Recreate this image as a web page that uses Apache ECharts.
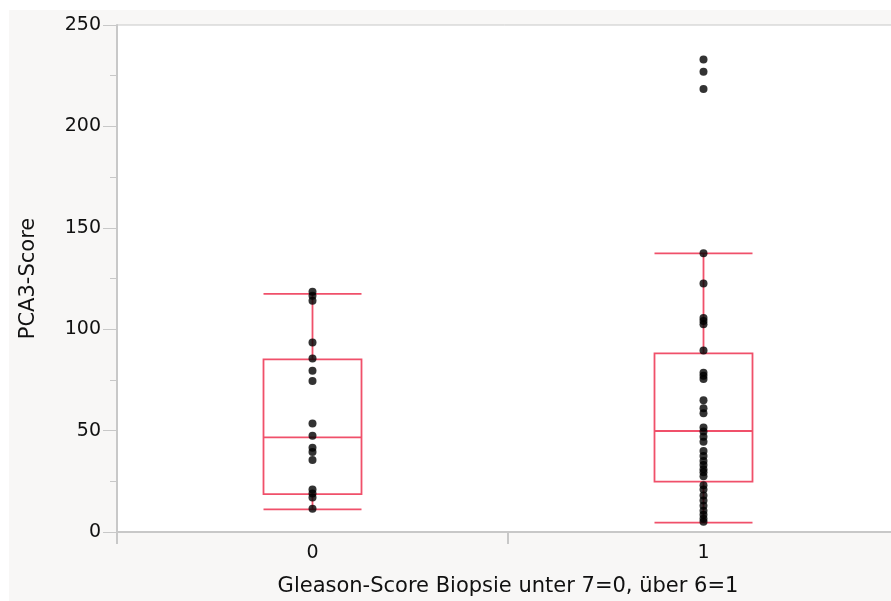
<!DOCTYPE html>
<html>
<head>
<meta charset="utf-8">
<script src="https://cdn.jsdelivr.net/npm/echarts@6/dist/echarts.min.js"></script>
<style>html,body{margin:0;padding:0;background:#fff;}#c{width:891px;height:601px;}</style>
</head>
<body>
<div id="c"></div>
<script>
var categories = ['0', '1'];
var group0 = [118.5, 116.5, 114, 93.5, 85.5, 79.5, 74.5, 53.5, 47.5, 41.5, 39.5, 35.5, 21, 19, 17, 11.5];
var group1 = [233, 227, 218.5, 137.5, 122.5, 105.5, 104, 102.5, 89.5, 78.5, 77, 75.5, 65, 61, 58.5, 51.5, 49.5, 47, 44.5, 40, 37.5, 35, 33, 31, 29.5, 27.5, 23, 21, 18, 15.5, 13, 10.5, 8.5, 6.5, 5];
// [lower whisker, Q1, median, Q3, upper whisker]
var box0 = [11.2, 18.7, 46.7, 85.1, 117.4];
var box1 = [4.6, 24.8, 49.8, 88.1, 137.4];
var yTicks = [0, 50, 100, 150, 200, 250];

var points = [];
group0.forEach(function (v) { points.push([categories[0], v]); });
group1.forEach(function (v) { points.push([categories[1], v]); });

var font = '"DejaVu Sans", sans-serif';
var chart = echarts.init(document.getElementById('c'), null, { renderer: 'canvas' });
chart.setOption({
  backgroundColor: '#f8f7f6',
  animation: false,
  graphic: [
    { type: 'rect', shape: { x: 0, y: 0, width: 891, height: 10 }, style: { fill: '#ffffff' }, silent: true },
    { type: 'rect', shape: { x: 0, y: 0, width: 9, height: 601 }, style: { fill: '#ffffff' }, silent: true }
  ],
  grid: {
    left: 117, top: 25, width: 782, height: 507,
    outerBoundsMode: 'none',
    containLabel: false,
    show: true, backgroundColor: '#ffffff', borderColor: '#c8c8c8', borderWidth: 1
  },
  xAxis: {
    type: 'category',
    data: categories,
    boundaryGap: true,
    name: 'Gleason-Score Biopsie unter 7=0, über 6=1',
    nameLocation: 'middle',
    nameGap: 44,
    nameTextStyle: { fontFamily: font, fontSize: 21, color: '#111' },
    axisLine: { lineStyle: { color: '#c8c8c8', width: 2 } },
    axisTick: { show: true, length: 12, lineStyle: { color: '#c8c8c8', width: 2 } },
    axisLabel: { fontFamily: font, fontSize: 19, color: '#111', margin: 12 },
    splitLine: { show: false }
  },
  yAxis: {
    type: 'value',
    min: 0, max: 250, interval: 50,
    name: 'PCA3-Score',
    nameLocation: 'middle',
    nameGap: 78,
    nameRotate: 90,
    nameTextStyle: { fontFamily: font, fontSize: 21, color: '#111' },
    axisLine: { show: true, lineStyle: { color: '#c8c8c8', width: 2 } },
    axisTick: { show: true, length: 14, lineStyle: { color: '#c8c8c8', width: 1 } },
    minorTick: { show: true, splitNumber: 2, length: 7, lineStyle: { color: '#c8c8c8', width: 1 } },
    axisLabel: {
      fontFamily: font, fontSize: 19, color: '#111', margin: 16,
      formatter: function (v) { return yTicks.indexOf(v) >= 0 ? String(v) : ''; }
    },
    splitLine: { show: false }
  },
  series: [
    {
      type: 'boxplot',
      data: [box0, box1],
      boxWidth: [98, 98],
      itemStyle: { color: 'rgba(255,255,255,0)', borderColor: '#f0506a', borderWidth: 1.8 },
      z: 3
    },
    {
      type: 'scatter',
      data: points,
      symbol: 'circle',
      symbolSize: 8,
      itemStyle: { color: '#000000' },
      z: 4
    }
  ]
});
</script>
</body>
</html>
